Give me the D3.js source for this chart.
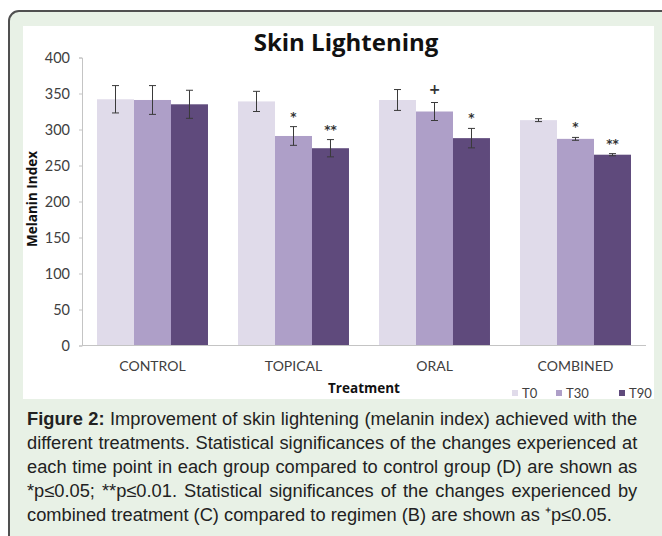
<!DOCTYPE html>
<html>
<head>
<meta charset="utf-8">
<script src="https://cdn.jsdelivr.net/npm/d3@7"></script>
<style>
  html, body { margin: 0; padding: 0; background: #fff; }
  svg { display: block; }
</style>
</head>
<body>
<svg id="chart" width="662" height="536"></svg>
<script>
// chart values
const categories = ["CONTROL", "TOPICAL", "ORAL", "COMBINED"];
const seriesNames = ["T0", "T30", "T90"];
const t0Means = [342, 339, 341, 313];
const t0Errors = [19, 14, 14.5, 2];
const t30Means = [341, 291, 325, 287];
const t30Errors = [20, 13, 12.5, 2];
const t90Means = [335, 274, 288, 265];
const t90Errors = [19.5, 12, 13.5, 1.5];
const t0Marks = ["", "", "", ""];
const t30Marks = ["", "*", "+", "*"];
const t90Marks = ["", "**", "*", "**"];
const yTicks = [0, 50, 100, 150, 200, 250, 300, 350, 400];

const captionLines = [
  ["Figure 2:", " Improvement of skin lightening (melanin index) achieved with the"],
  ["", "different treatments. Statistical significances of the changes experienced at"],
  ["", "each time point in each group compared to control group (D) are shown as"],
  ["", "*p\u22640.05; **p\u22640.01. Statistical significances of the changes experienced by"],
  ["", "combined treatment (C) compared to regimen (B) are shown as \u207Ap\u22640.05."]
];

const colors = ["#e0dbea", "#ae9fc8", "#5f4a7c"];

window.onload = function ()
{
  let svg = d3.select("#chart");

  // outer green panel with rounded corner (runs off the right/bottom edge)
  svg.append("rect")
    .attr("x", 9).attr("y", 11)
    .attr("width", 720).attr("height", 600)
    .attr("rx", 10)
    .attr("fill", "#e8f1e6")
    .attr("stroke", "#505050")
    .attr("stroke-width", 2);

  // white chart area
  svg.append("rect")
    .attr("x", 23).attr("y", 26)
    .attr("width", 631).attr("height", 373)
    .attr("fill", "#fff");

  const plotLeft = 82, plotRight = 646;
  let x0 = d3.scaleBand()
    .domain(categories)
    .range([plotLeft, plotRight])
    .paddingInner(0.213)
    .paddingOuter(0.1065);
  let x1 = d3.scaleBand()
    .domain(seriesNames)
    .range([0, x0.bandwidth()]);
  let y = d3.scaleLinear()
    .domain([0, 400])
    .range([345.5, 57.5]);

  let series = [
    { name: "T0", means: t0Means, errs: t0Errors, marks: t0Marks },
    { name: "T30", means: t30Means, errs: t30Errors, marks: t30Marks },
    { name: "T90", means: t90Means, errs: t90Errors, marks: t90Marks }
  ];

  let rows = [];
  series.forEach((s, si) => {
    categories.forEach((c, ci) => {
      rows.push({ cat: c, ser: s.name, si: si, v: s.means[ci], e: s.errs[ci], m: s.marks[ci] });
    });
  });

  // y axis
  let yAxis = svg.append("g")
    .attr("transform", "translate(" + plotLeft + ",0)")
    .call(d3.axisLeft(y).tickValues(yTicks).tickSize(3).tickPadding(9));
  yAxis.select(".domain").attr("stroke", "#c4c4c4");
  yAxis.selectAll(".tick line").attr("stroke", "#c4c4c4");
  yAxis.selectAll("text")
    .attr("font-family", "Lato, 'Open Sans', sans-serif")
    .attr("font-size", 14.5)
    .attr("fill", "#404040");

  // bars
  svg.append("g").selectAll("rect")
    .data(rows)
    .join("rect")
    .attr("x", d => x0(d.cat) + x1(d.ser))
    .attr("y", d => y(d.v))
    .attr("width", x1.bandwidth())
    .attr("height", d => y(0) - y(d.v))
    .attr("fill", d => colors[d.si]);

  // baseline
  svg.append("line")
    .attr("x1", plotLeft).attr("x2", plotRight)
    .attr("y1", y(0)).attr("y2", y(0))
    .attr("stroke", "#c4c4c4");

  // error bars
  let eb = svg.append("g").attr("stroke", "#3a3a3a").attr("stroke-width", 1);
  rows.forEach(d => {
    let cx = x0(d.cat) + x1(d.ser) + x1.bandwidth() / 2;
    eb.append("line").attr("x1", cx).attr("x2", cx).attr("y1", y(d.v + d.e)).attr("y2", y(d.v - d.e));
    eb.append("line").attr("x1", cx - 3.5).attr("x2", cx + 3.5).attr("y1", y(d.v + d.e)).attr("y2", y(d.v + d.e));
    eb.append("line").attr("x1", cx - 3.5).attr("x2", cx + 3.5).attr("y1", y(d.v - d.e)).attr("y2", y(d.v - d.e));
  });

  // significance marks
  svg.append("g").selectAll("text")
    .data(rows.filter(d => d.m !== ""))
    .join("text")
    .attr("x", d => x0(d.cat) + x1(d.ser) + x1.bandwidth() / 2)
    .attr("y", d => y(d.v + d.e) - (d.m === "+" ? 9 : 6))
    .attr("text-anchor", "middle")
    .attr("font-family", "'DejaVu Sans', sans-serif")
    .attr("font-weight", "bold")
    .attr("font-size", d => d.m === "+" ? 14 : 12)
    .attr("fill", "#333")
    .text(d => d.m);

  // category labels
  svg.append("g").selectAll("text")
    .data(categories)
    .join("text")
    .attr("x", d => x0(d) + x0.bandwidth() / 2)
    .attr("y", 371)
    .attr("text-anchor", "middle")
    .attr("font-family", "Lato, 'Open Sans', sans-serif")
    .attr("font-size", 14)
    .attr("fill", "#404040")
    .text(d => d);

  // title
  svg.append("text")
    .attr("x", 346).attr("y", 51)
    .attr("text-anchor", "middle")
    .attr("font-family", "'Open Sans', Lato, sans-serif")
    .attr("font-weight", "bold")
    .attr("font-size", 24)
    .attr("fill", "#111")
    .text("Skin Lightening");

  // axis titles
  svg.append("text")
    .attr("transform", "translate(37,199) rotate(-90)")
    .attr("text-anchor", "middle")
    .attr("font-family", "'Open Sans', Lato, sans-serif")
    .attr("font-weight", "bold")
    .attr("font-size", 13.5)
    .attr("fill", "#111")
    .text("Melanin Index");

  svg.append("text")
    .attr("x", 364).attr("y", 393)
    .attr("text-anchor", "middle")
    .attr("font-family", "'Open Sans', Lato, sans-serif")
    .attr("font-weight", "bold")
    .attr("font-size", 13.5)
    .attr("fill", "#111")
    .text("Treatment");

  // legend
  const legendX = [512, 556, 619];
  let lg = svg.append("g").selectAll("g")
    .data(seriesNames)
    .join("g")
    .attr("transform", (d, i) => "translate(" + legendX[i] + ",390)");
  lg.append("rect").attr("width", 6).attr("height", 6).attr("fill", (d, i) => colors[i]);
  lg.append("text")
    .attr("x", 10).attr("y", 8)
    .attr("font-family", "Lato, 'Open Sans', sans-serif")
    .attr("font-size", 13)
    .attr("fill", "#404040")
    .text(d => d);

  // caption: narrow look via horizontal scale, lines 1-4 justified with word-spacing
  const capLeft = 27, capFullWidth = 611, capNatural = 603;
  let cap = svg.append("g")
    .attr("font-family", "'Liberation Sans', Arial, sans-serif")
    .attr("font-size", 18.5)
    .attr("fill", "#222");
  let capTexts = captionLines.map((ln, i) => {
    let t = cap.append("text")
      .attr("x", 0)
      .attr("y", 425 + i * 24);
    if (ln[0]) t.append("tspan").attr("font-weight", "bold").text(ln[0]);
    t.append("tspan").text(ln[1]);
    return t;
  });
  let widths = capTexts.map(t => t.node().getComputedTextLength());
  let sx = capNatural / d3.mean(widths.slice(0, 4));
  cap.attr("transform", "translate(" + capLeft + ",0) scale(" + sx + ",1)");
  capTexts.forEach((t, i) => {
    if (i === 4) return;
    let full = captionLines[i].join("");
    let spaces = (full.match(/ /g) || []).length;
    let ws = (capFullWidth / sx - widths[i]) / spaces;
    t.attr("word-spacing", ws);
  });
};
</script>
</body>
</html>
